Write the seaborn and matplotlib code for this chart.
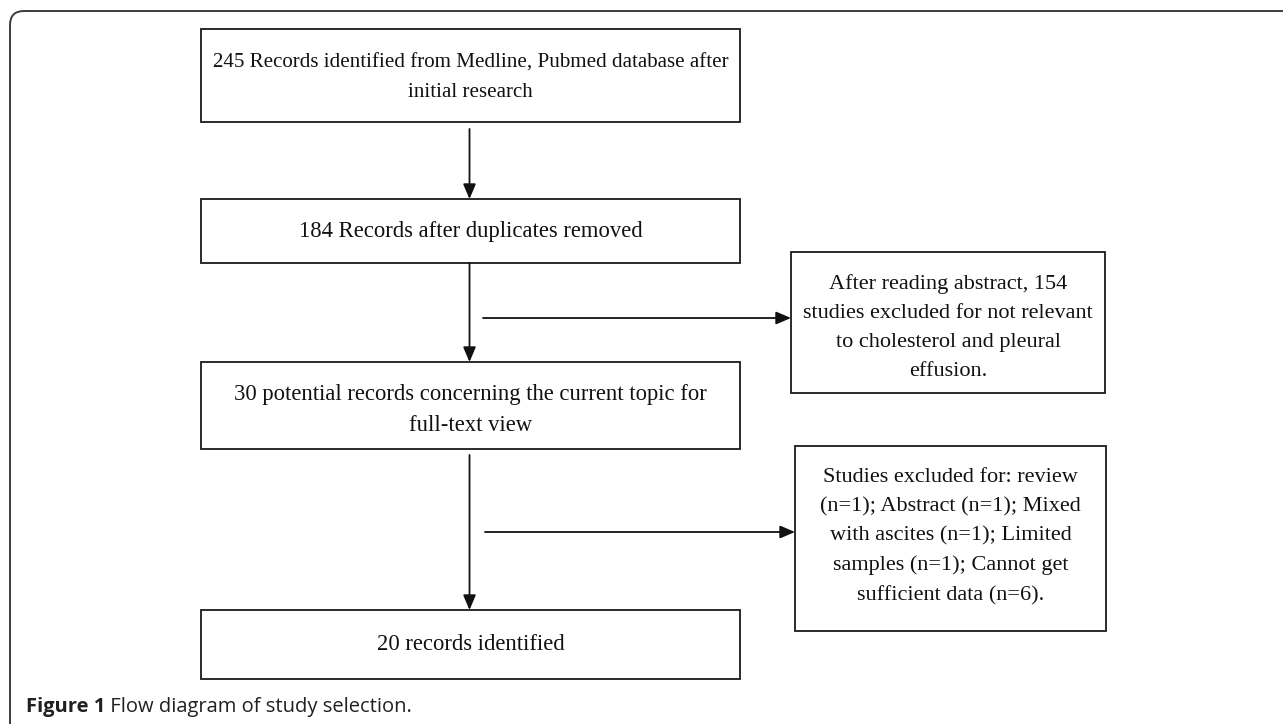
import matplotlib
matplotlib.use("Agg")
import matplotlib.pyplot as plt
from matplotlib.patches import Rectangle, FancyBboxPatch
import seaborn as sns

# ---- content ----
main_steps = [
    "245 Records identified from Medline, Pubmed database after\ninitial research",
    "184 Records after duplicates removed",
    "30 potential records concerning the current topic for\nfull-text view",
    "20 records identified",
]
exclusions = [
    "After reading abstract, 154\nstudies excluded for not relevant\nto cholesterol and pleural\neffusion.",
    "Studies excluded for: review\n(n=1); Abstract (n=1); Mixed\nwith ascites (n=1); Limited\nsamples (n=1); Cannot get\nsufficient data (n=6).",
]
caption_bold = "Figure 1"
caption_rest = " Flow diagram of study selection."

# ---- layout (pixel coordinates) ----
W, H = 1283, 724
main_x = (201, 740)
main_y = [(29, 122), (199, 263), (362, 449), (610, 679)]
main_fs = [15.1, 16.3, 16.3, 16.3]
main_dy = [2.5, 0, 4.5, 0]
excl_boxes = [((791, 1105), (252, 393)), ((795, 1106), (446, 631))]
excl_dy = [5, -2]
excl_arrow_y = [318, 532]
excl_arrow_x0 = [483, 485]
arrow_gap = [7, 0, 6]

sns.set_theme(style="white")
plt.rcParams["font.family"] = ["Liberation Serif", "DejaVu Serif"]

fig = plt.figure(figsize=(W / 100, H / 100), dpi=100)
ax = fig.add_axes([0, 0, 1, 1])
ax.set_xlim(0, W)
ax.set_ylim(H, 0)
ax.axis("off")

# outer rounded frame
frame = FancyBboxPatch((10, 11), W + 40, H + 40,
                       boxstyle="round,pad=0,rounding_size=14",
                       fill=False, ec="#3c3c3c", lw=1.4)
ax.add_patch(frame)

box_kw = dict(fill=False, ec="#1a1a1a", lw=1.3)
txt_kw = dict(ha="center", va="center", multialignment="center",
              color="#111111", family=["Liberation Serif", "DejaVu Serif"])
arrow_kw = dict(arrowstyle="-|>,head_length=0.75,head_width=0.32",
                color="#111111", lw=1.3, shrinkA=0, shrinkB=0)

PX_PER = 1.155  # line pitch in px per (linespacing * pt)

cx = (main_x[0] + main_x[1]) / 2
for (y0, y1), label, fs, dy in zip(main_y, main_steps, main_fs, main_dy):
    ax.add_patch(Rectangle((main_x[0], y0), main_x[1] - main_x[0], y1 - y0, **box_kw))
    ax.text(cx, (y0 + y1) / 2 + dy, label, fontsize=fs,
            linespacing=30 / (PX_PER * fs), **txt_kw)

for i in range(len(main_y) - 1):
    ax.annotate("", xy=(cx - 1, main_y[i + 1][0]), xytext=(cx - 1, main_y[i][1] + arrow_gap[i]),
                arrowprops=arrow_kw)

for ((x0, x1), (y0, y1)), label, dy, ay, ax0 in zip(excl_boxes, exclusions, excl_dy,
                                                   excl_arrow_y, excl_arrow_x0):
    ax.add_patch(Rectangle((x0, y0), x1 - x0, y1 - y0, **box_kw))
    ax.text((x0 + x1) / 2, (y0 + y1) / 2 + dy, label, fontsize=16,
            linespacing=1.7, **txt_kw)
    ax.annotate("", xy=(x0, ay), xytext=(ax0, ay), arrowprops=arrow_kw)

# caption
cap_kw = dict(va="center", ha="left", fontsize=14.5, color="#231f20",
              family=["Open Sans", "DejaVu Sans"])
t1 = ax.text(26, 707, caption_bold, fontweight="bold", **cap_kw)
fig.canvas.draw()
bb = t1.get_window_extent(renderer=fig.canvas.get_renderer())
x_end = ax.transData.inverted().transform((bb.x1, bb.y0))[0]
ax.text(x_end, 707, caption_rest, **cap_kw)

fig.savefig("out.png", dpi=100)
